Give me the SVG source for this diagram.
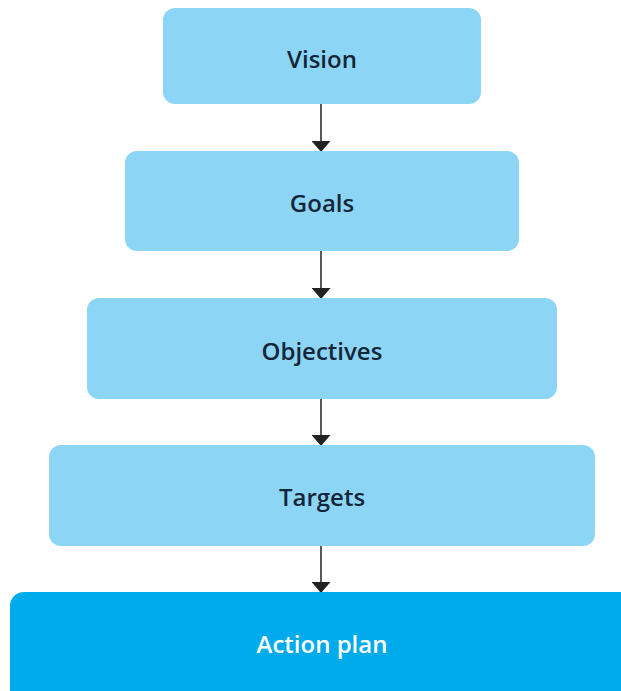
<svg xmlns="http://www.w3.org/2000/svg" width="621" height="691" viewBox="0 0 621 691">
<defs>
<style>
.box{fill:#8dd5f4}
.main{fill:#00abeb}
.lbl{font-family:"Open Sans","Noto Sans",sans-serif;font-weight:600;font-size:24px;text-anchor:middle;fill:#14263a}
.lblw{fill:#ffffff}
.conn{stroke:#222;stroke-width:1.5;fill:none;marker-end:url(#ah)}
</style>
<marker id="ah" markerWidth="11" markerHeight="19" refX="10" refY="9.5" orient="auto" markerUnits="userSpaceOnUse" viewBox="0 0 11 19">
<path d="M0,0 L11,9.5 L0,19 Z" fill="#222"/>
</marker>
</defs>
<rect width="621" height="691" fill="#ffffff"/>
<g id="connectors">
<line class="conn" x1="321" y1="104" x2="321" y2="151"/>
<line class="conn" x1="321" y1="251" x2="321" y2="298"/>
<line class="conn" x1="321" y1="399" x2="321" y2="445"/>
<line class="conn" x1="321" y1="546" x2="321" y2="592"/>
</g>
<g id="vision"><rect class="box" x="163" y="8" width="318" height="96" rx="12"/><text class="lbl" x="322" y="67.5">Vision</text></g>
<g id="goals"><rect class="box" x="125" y="151" width="394" height="100" rx="12"/><text class="lbl" x="322" y="211.5">Goals</text></g>
<g id="objectives"><rect class="box" x="87" y="298" width="470" height="101" rx="12"/><text class="lbl" x="322" y="359.5">Objectives</text></g>
<g id="targets"><rect class="box" x="49" y="445" width="546" height="101" rx="12"/><text class="lbl" x="322" y="505.5">Targets</text></g>
<g id="action-plan"><rect class="main" x="10" y="592" width="630" height="120" rx="14"/><text class="lbl lblw" x="322" y="652.5">Action plan</text></g>
</svg>
